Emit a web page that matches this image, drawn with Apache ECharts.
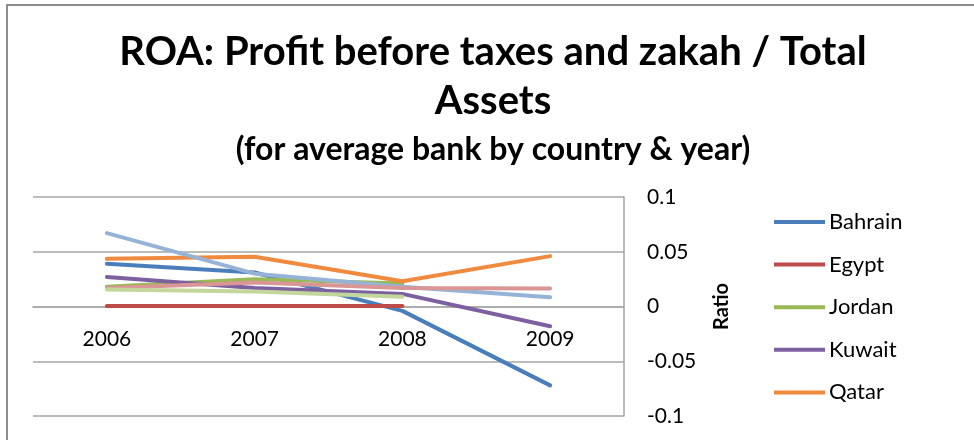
<!DOCTYPE html>
<html>
<head>
<meta charset="utf-8">
<script src="https://cdn.jsdelivr.net/npm/echarts@6/dist/echarts.min.js"></script>
<style>
  html, body { margin: 0; padding: 0; background: #fff; }
  #chart { width: 974px; height: 440px; }
</style>
</head>
<body>
<div id="chart"></div>
<script>
// ROA by country and year (ratio of pre-tax, pre-zakah profit to total assets)
const years = ['2006', '2007', '2008', '2009'];
const bahrain = [0.039, 0.031, -0.004, -0.072];
const egypt   = [0.0005, 0.0005, 0.0005, null];
const jordan  = [0.018, 0.025, 0.021, null];
const kuwait  = [0.027, 0.017, 0.0115, -0.018];
const qatar   = [0.0435, 0.0455, 0.023, 0.046];
const series6 = [0.067, 0.030, 0.018, 0.0085];
const series7 = [0.017, 0.022, 0.017, 0.0165];
const series8 = [0.0155, 0.0136, 0.009, null];

const yTicks = { min: -0.1, max: 0.1, step: 0.05 };
const legendNames = ['Bahrain', 'Egypt', 'Jordan', 'Kuwait', 'Qatar'];

const FONT = 'Lato, "Open Sans", sans-serif';

const lines = [
  { name: 'Bahrain', data: bahrain, color: '#4a7ebb' },
  { name: 'Egypt', data: egypt, color: '#be4b48' },
  { name: 'Jordan', data: jordan, color: '#98b954' },
  { name: 'Kuwait', data: kuwait, color: '#7d60a0' },
  { name: 'Qatar', data: qatar, color: '#f08a3e' },
  { name: 'Series 6', data: series6, color: '#95b3d7' },
  { name: 'Series 7', data: series7, color: '#d99694' },
  { name: 'Series 8', data: series8, color: '#c3d69b' }
];

// grid geometry: plot spans y 197..416, the zero line sits halfway
const GRID_TOP = 197, GRID_BOTTOM = 24, CHART_H = 440;
const plotH = CHART_H - GRID_TOP - GRID_BOTTOM;
const zeroShift = plotH * (0 - yTicks.min) / (yTicks.max - yTicks.min);

const chart = echarts.init(document.getElementById('chart'), null, { renderer: 'canvas' });

chart.setOption({
  backgroundColor: '#ffffff',
  animation: false,
  graphic: [
    {
      type: 'rect',
      shape: { x: 7, y: 5, width: 1100, height: 600 },
      style: { fill: 'none', stroke: '#8c8c8c', lineWidth: 2 },
      silent: true
    },
    {
      type: 'text',
      x: 493, y: 52,
      style: {
        text: 'ROA: Profit before taxes and zakah / Total',
        font: 'bold 40px ' + FONT,
        fill: '#000',
        align: 'center',
        verticalAlign: 'middle'
      }
    },
    {
      type: 'text',
      x: 493, y: 101,
      style: {
        text: 'Assets',
        font: 'bold 40px ' + FONT,
        fill: '#000',
        align: 'center',
        verticalAlign: 'middle'
      }
    },
    {
      type: 'text',
      x: 493, y: 150,
      style: {
        text: '(for average bank by country & year)',
        font: 'bold 32px ' + FONT,
        fill: '#000',
        align: 'center',
        verticalAlign: 'middle'
      }
    }
  ],
  legend: {
    data: legendNames,
    orient: 'vertical',
    left: 774,
    top: 211,
    padding: 0,
    itemWidth: 51,
    itemHeight: 4,
    itemGap: 20.6,
    icon: 'rect',
    textStyle: { fontFamily: FONT, fontSize: 22, color: '#000', padding: [0, 0, 0, -1] }
  },
  grid: {
    left: 33, right: 350, top: GRID_TOP, bottom: GRID_BOTTOM,
    containLabel: false, outerBoundsMode: 'none'
  },
  xAxis: {
    type: 'category',
    data: years,
    boundaryGap: true,
    position: 'bottom',
    offset: -zeroShift,
    axisLine: { show: true, onZero: false, lineStyle: { color: '#a6a6a6', width: 1.5 } },
    axisTick: { show: false },
    axisLabel: { margin: 22, fontFamily: FONT, fontSize: 21, color: '#000' },
    splitLine: { show: false }
  },
  yAxis: {
    type: 'value',
    position: 'right',
    min: yTicks.min,
    max: yTicks.max,
    interval: yTicks.step,
    name: 'Ratio',
    nameLocation: 'middle',
    nameRotate: 90,
    nameGap: 88,
    nameTextStyle: { fontFamily: FONT, fontSize: 20, fontWeight: 'bold', color: '#000' },
    axisLine: { show: true, lineStyle: { color: '#a6a6a6', width: 1.5 } },
    axisTick: { show: false },
    axisLabel: {
      margin: 23,
      fontFamily: FONT,
      fontSize: 21,
      color: '#000',
      formatter: v => String(Math.round(v * 100) / 100)
    },
    splitLine: { show: true, lineStyle: { color: '#a6a6a6', width: 1.5 } }
  },
  series: lines.map(s => ({
    name: s.name,
    type: 'line',
    data: s.data,
    color: s.color,
    showSymbol: false,
    symbol: 'none',
    connectNulls: false,
    lineStyle: { width: 4, color: s.color, cap: 'round', join: 'round' }
  }))
});
</script>
</body>
</html>
